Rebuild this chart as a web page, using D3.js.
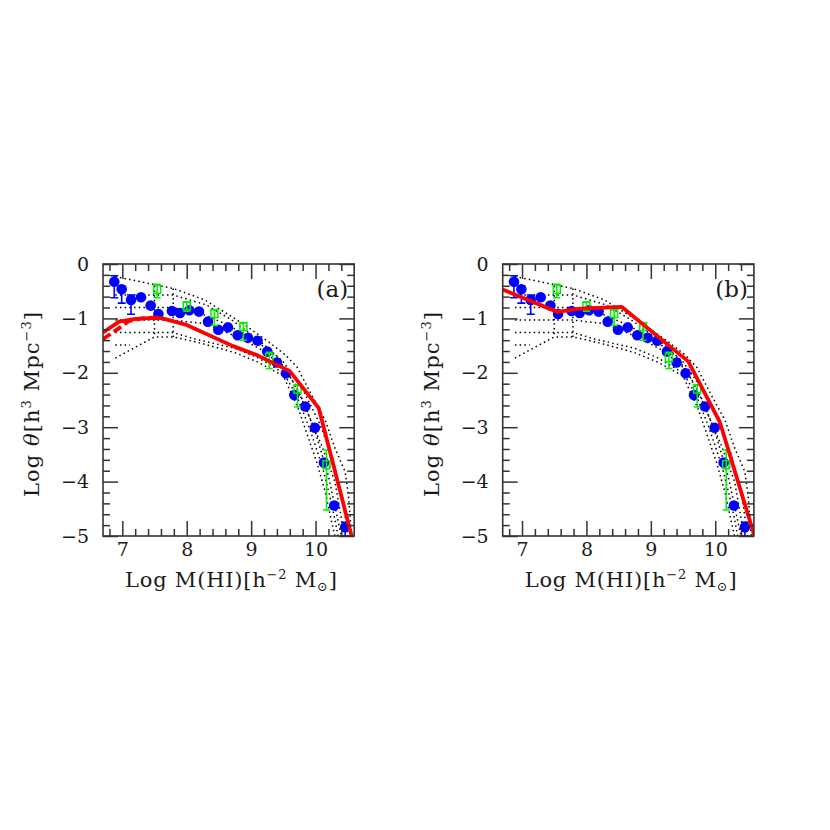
<!DOCTYPE html>
<html><head><meta charset="utf-8">
<script src="https://cdn.jsdelivr.net/npm/d3@7"></script>
<style>
body{margin:0;background:#fff}
svg text{font-family:"DejaVu Serif",serif;fill:#1a1a1a}
</style>
</head><body>
<svg id="c" width="830" height="830"></svg>
<script>
// ---------- data ----------
const xDomain = [6.7, 10.6];
const yDomain = [-5, 0];
const xMajor = [7, 8, 9, 10];
const yMajor = [0, -1, -2, -3, -4, -5];

// blue observational points (same in both panels)
const blueX  = [6.875, 6.99, 7.135, 7.29, 7.44, 7.56, 7.77, 7.895, 8.04, 8.19, 8.33, 8.49, 8.64, 8.79, 8.95, 9.10, 9.25, 9.40, 9.54, 9.67, 9.84, 9.99, 10.13, 10.29, 10.46];
const blueY  = [-0.325, -0.465, -0.66, -0.61, -0.765, -0.92, -0.865, -0.90, -0.85, -0.875, -1.06, -1.21, -1.165, -1.31, -1.355, -1.41, -1.61, -1.81, -2.01, -2.41, -2.62, -3.01, -3.65, -4.44, -4.84];
const blueHi = [-0.215, -0.40, -0.57, null, null, null, null, null, null, null, null, null, null, null, null, null, null, null, null, null, null, null, null, null, -4.75];
const blueLo = [-0.62, -0.72, -0.925, null, null, null, null, null, null, null, null, null, null, null, null, null, null, null, null, null, null, null, null, null, -5.0];

// green open squares with error bars
const greenX  = [7.54, 8.0, 8.43, 8.88, 9.28, 9.72, 10.17];
const greenY  = [-0.465, -0.77, -0.91, -1.15, -1.72, -2.30, -3.69];
const greenHi = [-0.37, -0.70, -0.84, -1.08, -1.62, -2.22, -3.42];
const greenLo = [-0.62, -0.87, -1.13, -1.40, -1.92, -2.63, -4.52];

// red model curves
const redA     = [[6.70,-1.26],[6.95,-1.06],[7.2,-1.01],[7.5,-0.99],[7.62,-1.0],[8.0,-1.12],[8.72,-1.51],[9.1,-1.68],[9.6,-1.97],[10.05,-2.65],[10.56,-5.0]];
const redADash = [[6.70,-1.38],[6.9,-1.22],[7.1,-1.05],[7.3,-1.0],[7.6,-0.98]];
const redB     = [[6.70,-0.47],[7.55,-0.88],[7.9,-0.82],[8.55,-0.79],[9.58,-1.79],[10.07,-2.90],[10.61,-5.0]];

// dotted model envelopes (same in both panels)
const dotA = [[6.89,-0.23],[7.3,-0.33],[7.79,-0.45],[8.28,-0.66],[8.7,-0.97],[8.9,-1.12],[9.27,-1.43],[9.53,-1.67],[9.71,-1.89],[9.94,-2.41],[10.15,-2.87],[10.3,-3.38],[10.46,-3.82],[10.51,-4.25],[10.56,-5.0]];
const dotB = [[6.89,-0.57],[7.79,-0.57],[8.3,-0.75],[8.7,-1.03],[9.1,-1.38],[9.5,-1.8],[9.8,-2.3],[10.05,-2.9],[10.25,-3.5],[10.42,-4.3],[10.5,-5.0]];
const dotC = [[6.89,-0.80],[7.79,-0.80],[8.2,-0.9],[8.6,-1.1],[9.0,-1.35],[9.4,-1.7],[9.7,-2.25],[9.9,-2.8],[10.1,-3.35],[10.3,-4.0],[10.45,-5.0]];
const dotD = [[6.89,-1.03],[7.79,-1.03],[8.3,-1.1],[8.8,-1.35],[9.2,-1.6],[9.55,-1.95],[9.8,-2.5],[10.0,-3.1],[10.2,-3.9],[10.4,-5.0]];
const dotE = [[6.89,-1.26],[7.79,-1.26],[8.13,-1.38],[8.75,-1.55],[9.1,-1.72],[9.5,-2.0],[9.7,-2.4],[9.9,-3.0],[10.1,-3.7],[10.25,-4.4],[10.35,-5.0]];
const dotF = [[6.89,-1.73],[7.5,-1.34],[7.79,-1.34],[8.2,-1.45],[8.75,-1.63],[9.1,-1.8],[9.5,-2.06],[9.73,-2.65],[9.89,-3.2],[10.02,-3.65],[10.15,-4.19],[10.25,-4.74],[10.3,-5.0]];
const dotG = [[6.89,-1.49],[7.12,-1.49]];
const dotV1 = [[7.5,-0.40],[7.5,-1.34]];
const dotV2 = [[7.79,-0.45],[7.79,-1.34]];
const dottedLines = [dotA, dotB, dotC, dotD, dotE, dotF, dotG, dotV1, dotV2];

const panelLabels = ["(a)", "(b)"];

// ---------- layout ----------
const svg = d3.select("#c");
const TOP = 264, BOTTOM = 536, PW = 251.2;
const panels = [
  {left: 103,   label: panelLabels[0], red: [redA], dashed: [redADash]},
  {left: 502.7, label: panelLabels[1], red: [redB], dashed: []}
];
const AX = "#333";

const xMinor = d3.range(34, 54).map(v => v / 5).filter(v => !xMajor.includes(v) && v > xDomain[0] && v < xDomain[1]);
const yMinor = d3.range(-24, 0).map(v => v / 5).filter(v => !yMajor.includes(v));

panels.forEach((p, pi) => {
  const g = svg.append("g").attr("transform", `translate(${p.left},0)`);
  const x = d3.scaleLinear().domain(xDomain).range([0, PW]);
  const y = d3.scaleLinear().domain(yDomain).range([BOTTOM, TOP]);
  const line = d3.line().x(d => x(d[0])).y(d => y(d[1]));

  const cid = "clip" + pi;
  g.append("clipPath").attr("id", cid).append("rect")
    .attr("x", 0).attr("y", TOP).attr("width", PW).attr("height", BOTTOM - TOP);
  const data = g.append("g").attr("clip-path", `url(#${cid})`);

  // dotted
  dottedLines.forEach(dl => {
    data.append("path").attr("d", line(dl)).attr("fill", "none")
      .attr("stroke", "#000").attr("stroke-width", 1.5)
      .attr("stroke-dasharray", "1.5 3.2");
  });

  // blue error bars
  blueX.forEach((bx, i) => {
    if (blueLo[i] == null) return;
    const cx = x(bx), y1 = y(blueHi[i]), y2 = y(blueLo[i]);
    data.append("line").attr("x1", cx).attr("x2", cx).attr("y1", y1).attr("y2", y2)
      .attr("stroke", "#0000ff").attr("stroke-width", 1.6);
    [y1, y2].forEach(yy => data.append("line").attr("x1", cx - 4).attr("x2", cx + 4)
      .attr("y1", yy).attr("y2", yy).attr("stroke", "#0000ff").attr("stroke-width", 1.6));
  });
  // blue dots
  data.selectAll("circle.blue").data(blueX).enter().append("circle")
    .attr("cx", (d) => x(d)).attr("cy", (d, i) => y(blueY[i])).attr("r", 5.3)
    .attr("fill", "#0000ff");

  // green
  greenX.forEach((gx, i) => {
    const cx = x(gx), cy = y(greenY[i]), y1 = y(greenHi[i]), y2 = y(greenLo[i]);
    const gc = "#00ee00";
    data.append("line").attr("x1", cx).attr("x2", cx).attr("y1", y1).attr("y2", y2)
      .attr("stroke", gc).attr("stroke-width", 1.5);
    [y1, y2].forEach(yy => data.append("line").attr("x1", cx - 3.5).attr("x2", cx + 3.5)
      .attr("y1", yy).attr("y2", yy).attr("stroke", gc).attr("stroke-width", 1.5));
    data.append("rect").attr("x", cx - 3.5).attr("y", cy - 4).attr("width", 7).attr("height", 8)
      .attr("fill", "none").attr("stroke", gc).attr("stroke-width", 1.5);
  });

  // red lines
  p.red.forEach(r => data.append("path").attr("d", line(r)).attr("fill", "none")
    .attr("stroke", "#ff0000").attr("stroke-width", 3.8).attr("stroke-linejoin", "round"));
  p.dashed.forEach(r => data.append("path").attr("d", line(r)).attr("fill", "none")
    .attr("stroke", "#ff0000").attr("stroke-width", 3.8).attr("stroke-dasharray", "9 4"));

  // axes
  const styleAxis = sel => {
    sel.select(".domain").remove();
    sel.selectAll(".tick line").attr("stroke", AX).attr("stroke-width", 1.5);
    sel.attr("font-family", null).attr("font-size", null);
    sel.selectAll("text").attr("font-size", 19).attr("fill", "#1a1a1a");
  };
  const fmt = d3.format("d");
  g.append("g").attr("transform", `translate(0,${BOTTOM})`)
    .call(d3.axisBottom(x).tickValues(xMajor).tickSize(-15).tickPadding(7).tickFormat(fmt)).call(styleAxis);
  g.append("g").attr("transform", `translate(0,${BOTTOM})`)
    .call(d3.axisBottom(x).tickValues(xMinor).tickSize(-7).tickFormat("")).call(styleAxis);
  g.append("g").attr("transform", `translate(0,${TOP})`)
    .call(d3.axisTop(x).tickValues(xMajor).tickSize(-15).tickFormat("")).call(styleAxis);
  g.append("g").attr("transform", `translate(0,${TOP})`)
    .call(d3.axisTop(x).tickValues(xMinor).tickSize(-7).tickFormat("")).call(styleAxis);
  g.append("g")
    .call(d3.axisLeft(y).tickValues(yMajor).tickSize(-15).tickPadding(14).tickFormat(fmt)).call(styleAxis);
  g.append("g")
    .call(d3.axisLeft(y).tickValues(yMinor).tickSize(-7).tickFormat("")).call(styleAxis);
  g.append("g").attr("transform", `translate(${PW},0)`)
    .call(d3.axisRight(y).tickValues(yMajor).tickSize(-15).tickFormat("")).call(styleAxis);
  g.append("g").attr("transform", `translate(${PW},0)`)
    .call(d3.axisRight(y).tickValues(yMinor).tickSize(-7).tickFormat("")).call(styleAxis);

  g.append("rect").attr("x", 0).attr("y", TOP).attr("width", PW).attr("height", BOTTOM - TOP)
    .attr("fill", "none").attr("stroke", AX).attr("stroke-width", 1.6);

  // panel label
  g.append("text").attr("x", PW - 6).attr("y", 297).attr("text-anchor", "end")
    .attr("font-size", 23).text(p.label);

  // x title
  const xt = g.append("text").attr("x", 22).attr("y", 587).attr("font-size", 21)
    .attr("textLength", 212).attr("lengthAdjust", "spacing");
  xt.append("tspan").text("Log M(HI)[h");
  xt.append("tspan").attr("dy", -8).attr("font-size", 13).text("−2");
  xt.append("tspan").attr("dy", 8).text(" M");
  xt.append("tspan").attr("dy", 4).attr("font-size", 13).text("⊙");
  xt.append("tspan").attr("dy", -4).text("]");

  // y title
  const yt = g.append("text").attr("transform", `translate(-64,497) rotate(-90)`)
    .attr("font-size", 21).attr("textLength", 185).attr("lengthAdjust", "spacing");
  yt.append("tspan").text("Log ");
  yt.append("tspan").attr("font-style", "italic").text("θ");
  yt.append("tspan").text("[h");
  yt.append("tspan").attr("dy", -8).attr("font-size", 13).text("3");
  yt.append("tspan").attr("dy", 8).text(" Mpc");
  yt.append("tspan").attr("dy", -8).attr("font-size", 13).text("−3");
  yt.append("tspan").attr("dy", 8).text("]");
});
</script>
</body></html>
